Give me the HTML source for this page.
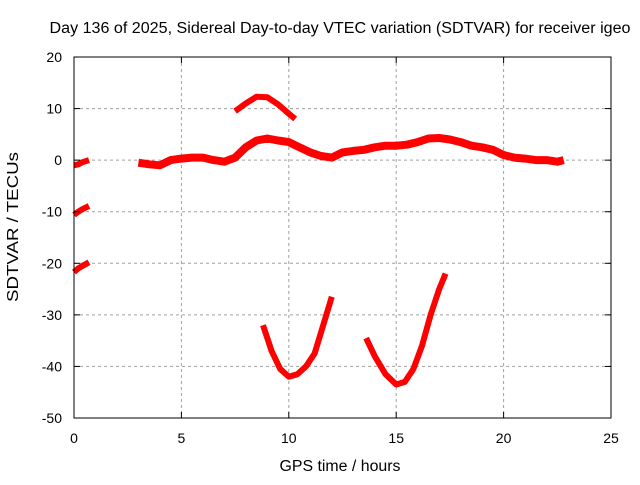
<!DOCTYPE html>
<html><head><meta charset="utf-8"><style>
body{margin:0;background:#fff}
svg text{font-family:"Liberation Sans",sans-serif;font-size:14px;fill:#000}
</style></head><body>
<svg id="chart" width="640" height="480">
<rect width="640" height="480" fill="#fff"/>
<text x="340" y="33" text-anchor="middle" textLength="581" lengthAdjust="spacingAndGlyphs" style="font-size:15.5px">Day 136 of 2025, Sidereal Day-to-day VTEC variation (SDTVAR) for receiver igeo</text>
<text x="340" y="471" text-anchor="middle" textLength="121" lengthAdjust="spacingAndGlyphs" style="font-size:15.5px">GPS time / hours</text>
<text transform="translate(18,227) rotate(-90)" text-anchor="middle" textLength="150" lengthAdjust="spacingAndGlyphs" style="font-size:15.5px">SDTVAR / TECUs</text>
<g id="grid"></g>
<g id="series"></g>
<rect x="74" y="57" width="537" height="361" fill="none" stroke="#000" stroke-width="1"/>
<g id="ticks"></g>
</svg>
<script>
const xTicks=[0,5,10,15,20,25];
const yTicks=[20,10,0,-10,-20,-30,-40,-50];
const seg1X=[0,0.2,0.4,0.7], seg1Y=[-1,-0.8,-0.4,0];
const seg2X=[0,0.2,0.4,0.7], seg2Y=[-10.6,-10,-9.5,-8.9];
const seg3X=[0,0.2,0.4,0.7], seg3Y=[-21.7,-21,-20.5,-19.8];
const mainX=[3.0,3.5,4.0,4.5,5,5.5,6,6.5,7,7.5,8,8.5,9,9.5,10,10.5,11,11.5,12,12.5,13,13.5,14,14.5,15,15.5,16,16.5,17,17.5,18,18.5,19,19.5,20,20.5,21,21.5,22,22.5,22.8];
const mainY=[-0.5,-0.8,-1,0,0.3,0.5,0.5,0,-0.3,0.5,2.5,3.8,4.2,3.8,3.5,2.5,1.5,0.8,0.5,1.5,1.8,2,2.5,2.8,2.8,3,3.5,4.2,4.3,4,3.5,2.8,2.5,2,1,0.5,0.3,0,0,-0.3,0];
const humpX=[7.5,8,8.5,9,9.5,10,10.3], humpY=[9.5,11,12.3,12.2,10.8,9,8];
const u1X=[8.8,9.2,9.6,10,10.4,10.8,11.2,11.6,12.0], u1Y=[-32,-37,-40.5,-42,-41.5,-40,-37.5,-32,-26.5];
const u2X=[13.6,14,14.5,15,15.4,15.8,16.2,16.6,17,17.3], u2Y=[-34.5,-38,-41.5,-43.5,-43,-40.5,-36,-30,-25,-22];
const X0=74,X1=611,Y0=418,Y1=57;
const sx=v=>X0+(v-0)/25*(X1-X0);
const sy=v=>Y0-(v+50)/70*(Y0-Y1);
const NS="http://www.w3.org/2000/svg";
const grid=document.getElementById('grid'),ticks=document.getElementById('ticks'),ser=document.getElementById('series');
function mk(t,a,p){const e=document.createElementNS(NS,t);for(const k in a)e.setAttribute(k,a[k]);p.appendChild(e);return e;}
xTicks.forEach(v=>{const x=sx(v);
 if(v>0&&v<25){const g=mk('line',{x1:x,x2:x,y1:Y1,y2:Y0,stroke:'#a0a0a0','stroke-dasharray':'3,3'},grid);
 
 }
 const t=mk('text',{x:x,y:443,'text-anchor':'middle'},ticks);t.textContent=v;
 
 
 mk('line',{x1:x,x2:x,y1:Y0,y2:Y0-6,stroke:'#000'},ticks);mk('line',{x1:x,x2:x,y1:Y1,y2:Y1+6,stroke:'#000'},ticks);});
yTicks.forEach(v=>{const y=sy(v);
 if(v<20&&v>-50){const g=mk('line',{x1:X0,x2:X1,y1:y,y2:y,stroke:'#a0a0a0','stroke-dasharray':'3,3'},grid);
 
 }
 const t=mk('text',{x:62,y:y+5,'text-anchor':'end'},ticks);t.textContent=v;
 
 
 mk('line',{x1:X0,x2:X0+6,y1:y,y2:y,stroke:'#000'},ticks);mk('line',{x1:X1,x2:X1-6,y1:y,y2:y,stroke:'#000'},ticks);});
[[seg1X,seg1Y],[seg2X,seg2Y],[seg3X,seg3Y],[mainX,mainY],[humpX,humpY],[u1X,u1Y],[u2X,u2Y]].forEach(([xs,ys],i)=>{
 const pts=xs.map((x,j)=>sx(x).toFixed(1)+','+sy(ys[j]).toFixed(1)).join(' ');
 const p=mk('polyline',{points:pts,fill:'none',stroke:'#ff0000','stroke-width':i==3?8:6,'stroke-linejoin':'round','stroke-linecap':'butt'},ser);
 
 
});
</script>
</body></html>
